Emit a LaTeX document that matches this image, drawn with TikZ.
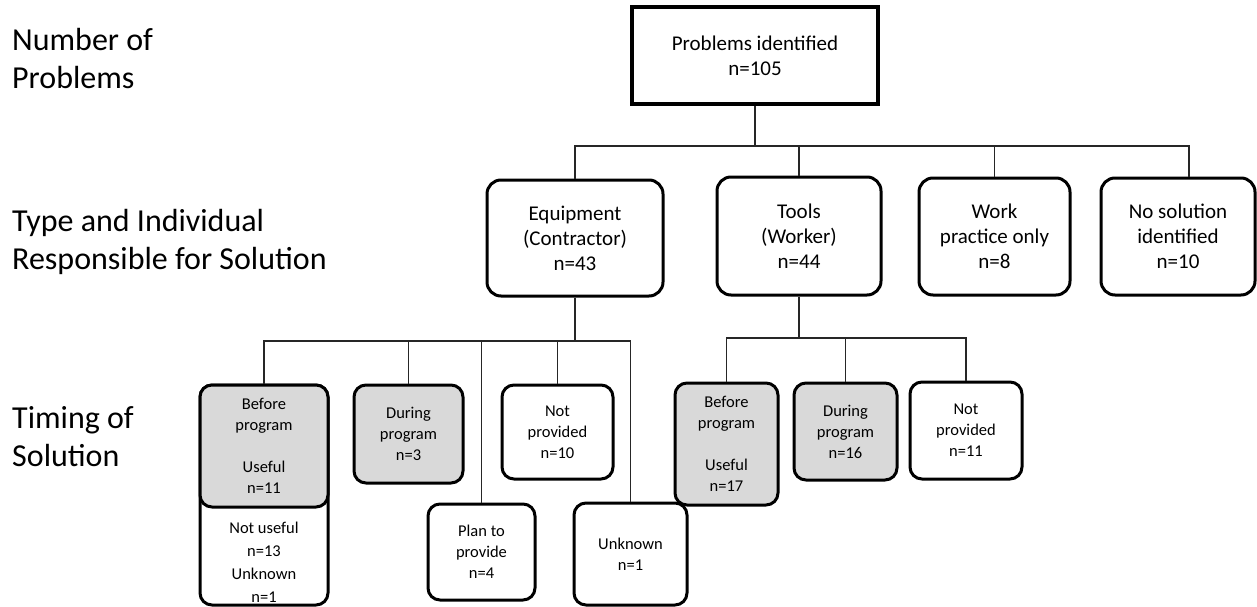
\documentclass[tikz,border=0pt]{standalone}
\usepackage{fontspec}
\setmainfont{Carlito}
\definecolor{boxgray}{HTML}{D9D9D9}
\begin{document}
\begin{tikzpicture}[x=1pt,y=-1pt,
  conn/.style={line width=1.4pt, draw=black!85},
  lab/.style={font=\fontsize{32}{38.5}\selectfont, align=left, anchor=north west, inner sep=0pt},
  topbox/.style={draw, line width=3.5pt, fill=white, minimum width=246pt, minimum height=97pt, align=center, inner sep=0pt, font=\fontsize{21}{25}\selectfont},
  midbox/.style={draw, line width=3pt, fill=white, rounded corners=14pt, align=center, inner sep=0pt, font=\fontsize{21}{25}\selectfont},
  lowbox/.style={draw, line width=3pt, fill=white, rounded corners=12pt, align=center, inner sep=0pt, font=\fontsize{16.5}{21}\selectfont},
  shaded/.style={fill=boxgray},
  plain/.style={align=center, inner sep=0pt, font=\fontsize{16.5}{23}\selectfont}]
\useasboundingbox (0,0) rectangle (1257,607);

% row labels
\node[lab] (l1) at (12,28) {Number of\\Problems};
\node[lab] (l2) at (12,209) {Type and Individual\\Responsible for Solution};
\node[lab] (l3) at (12,406) {Timing of\\Solution};

% level 1
\node[topbox] (top) at (755,55.5) {Problems identified\\n=105};

% level 2
\node[midbox, minimum width=176pt, minimum height=116pt] (equip) at (575,238) {Equipment\\(Contractor)\\n=43};
\node[midbox, minimum width=164pt, minimum height=118pt] (tools) at (799,236) {Tools\\(Worker)\\n=44};
\node[midbox, minimum width=151pt, minimum height=117pt] (work) at (994.5,236.5) {Work\\practice only\\n=8};
\node[midbox, minimum width=154pt, minimum height=117pt] (nosol) at (1178,236.5) {No solution\\identified\\n=10};

% level 3, equipment
\node[lowbox, minimum width=128pt, minimum height=220pt] (befEw) at (264,495) {};
\node[lowbox, shaded, minimum width=128pt, minimum height=122pt] (befE) at (264,446) {Before\\program\\\mbox{}\\Useful\\n=11};
\node[plain] (befEl) at (264,562) {Not useful\\n=13\\Unknown\\n=1};
\node[lowbox, shaded, minimum width=109pt, minimum height=98pt] (durE) at (408.5,434) {During\\program\\n=3};
\node[lowbox, minimum width=111pt, minimum height=94pt] (notE) at (557.5,432) {Not\\provided\\n=10};
\node[lowbox, minimum width=107pt, minimum height=96pt] (planE) at (481.5,552) {Plan to\\provide\\n=4};
\node[lowbox, minimum width=113pt, minimum height=102pt] (unkE) at (630.5,554) {Unknown\\n=1};

% level 3, tools
\node[lowbox, shaded, minimum width=103pt, minimum height=122pt] (befT) at (726.5,444) {Before\\program\\\mbox{}\\Useful\\n=17};
\node[lowbox, shaded, minimum width=103pt, minimum height=97pt] (durT) at (845.5,431.5) {During\\program\\n=16};
\node[lowbox, minimum width=112pt, minimum height=97pt] (notT) at (966,430.5) {Not\\provided\\n=11};

% connectors
\coordinate (bus1) at (755,146);
\coordinate (bus2) at (575,341);
\coordinate (bus3) at (799,338);
\draw[conn] (top.south) -- (bus1);
\draw[conn] (equip.north) |- (bus1);
\draw[conn] (tools.north) -- (tools.north |- bus1);
\draw[conn] (work.north) -- (work.north |- bus1);
\draw[conn] ([xshift=11pt]nosol.north) |- (bus1);

\draw[conn] (equip.south) -- (bus2);
\draw[conn] (befE.north) |- (bus2);
\draw[conn] (durE.north) -- (durE.north |- bus2);
\draw[conn] (planE.north) -- (planE.north |- bus2);
\draw[conn] (notE.north) -- (notE.north |- bus2);
\draw[conn] (unkE.north) |- (bus2);

\draw[conn] (tools.south) -- (bus3);
\draw[conn] (befT.north) |- (bus3);
\draw[conn] (durT.north) -- (durT.north |- bus3);
\draw[conn] (notT.north) |- (bus3);
\end{tikzpicture}
\end{document}
